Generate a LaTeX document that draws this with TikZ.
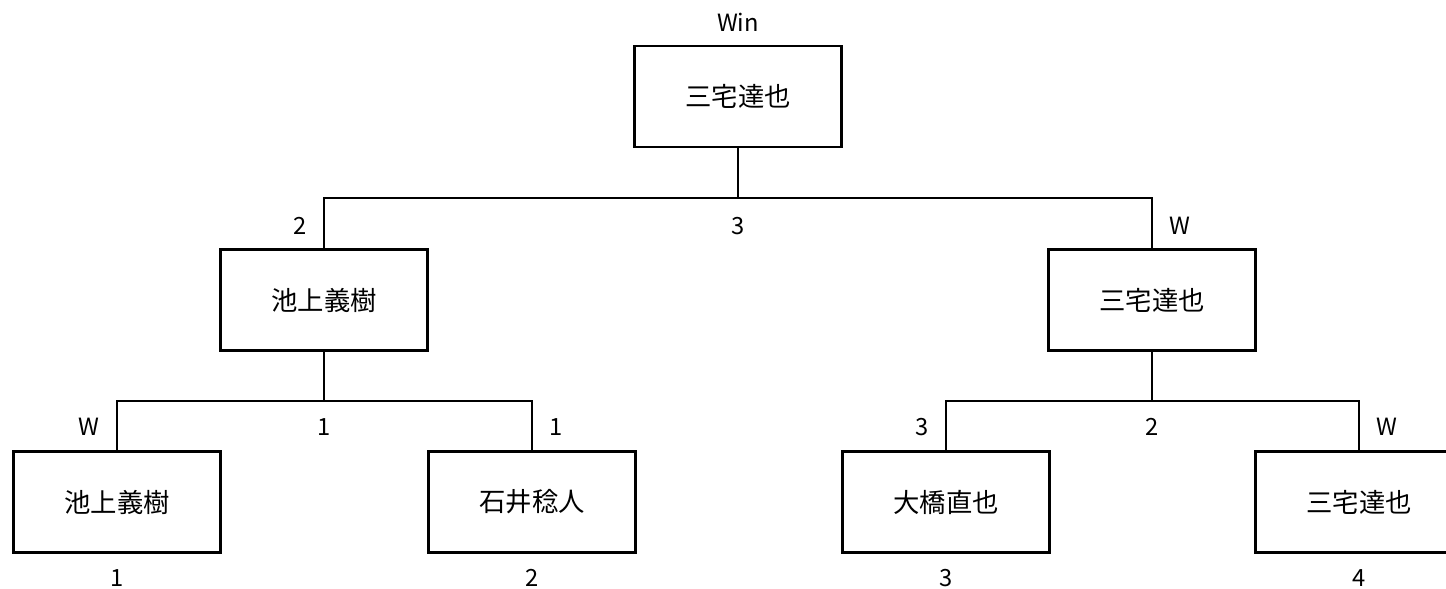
\documentclass[tikz,border=0pt]{standalone}
\usepackage{fontspec}
\setmainfont{Noto Sans CJK JP}

\tikzset{
  player/.style={draw, line width=1.5pt, minimum width=4.14cm, minimum height=2.02cm,
    inner sep=0pt, font=\fontsize{15}{18}\selectfont},
  score/.style={inner sep=0pt, font=\fontsize{13.5}{16}\selectfont},
  bracket/.style={line width=1.5pt},
}

\begin{document}
\begin{tikzpicture}

  \useasboundingbox (0,0) rectangle (28.92,11.78);
  \clip (0,0) rectangle (28.92,11.78);

  % final
  \node[player] (top) at (14.76,9.85) {三宅達也};
  \node[score] (win) at (14.76,11.34) {Win};

  % semi-finals
  \node[player] (semiL) at (6.48,5.78) {池上義樹};
  \node[player] (semiR) at (23.04,5.78) {三宅達也};

  % first round
  \node[player] (p1) at (2.34,1.74) {池上義樹};
  \node[player] (p2) at (10.64,1.74) {石井稔人};
  \node[player] (p3) at (18.92,1.74) {大橋直也};
  \node[player] (p4) at (27.18,1.74) {三宅達也};

  % junctions
  \coordinate (j0) at (14.76,7.82);
  \coordinate (jL) at (6.48,3.76);
  \coordinate (jR) at (23.04,3.76);

  \draw[bracket] (top.south) -- (j0);
  \draw[bracket] (semiL.north) |- (j0) -| (semiR.north);
  \draw[bracket] (semiL.south) -- (jL);
  \draw[bracket] (p1.north) |- (jL) -| (p2.north);
  \draw[bracket] (semiR.south) -- (jR);
  \draw[bracket] (p3.north) |- (jR) -| (p4.north);

  % scores
  \node[score] (s0) at (14.76,7.26) {3};
  \node[score, anchor=east] (s0L) at (6.14,7.26) {2};
  \node[score, anchor=west] (s0R) at (23.38,7.26) {W};

  \node[score] (sL) at (6.48,3.24) {1};
  \node[score, anchor=east] (sL1) at (2.00,3.24) {W};
  \node[score, anchor=west] (sL2) at (10.98,3.24) {1};

  \node[score] (sR) at (23.04,3.24) {2};
  \node[score, anchor=east] (sR3) at (18.58,3.24) {3};
  \node[score, anchor=west] (sR4) at (27.52,3.24) {W};

  % seeds
  \node[score] (n1) at (2.34,0.22) {1};
  \node[score] (n2) at (10.64,0.22) {2};
  \node[score] (n3) at (18.92,0.22) {3};
  \node[score] (n4) at (27.18,0.22) {4};

\end{tikzpicture}
\end{document}
